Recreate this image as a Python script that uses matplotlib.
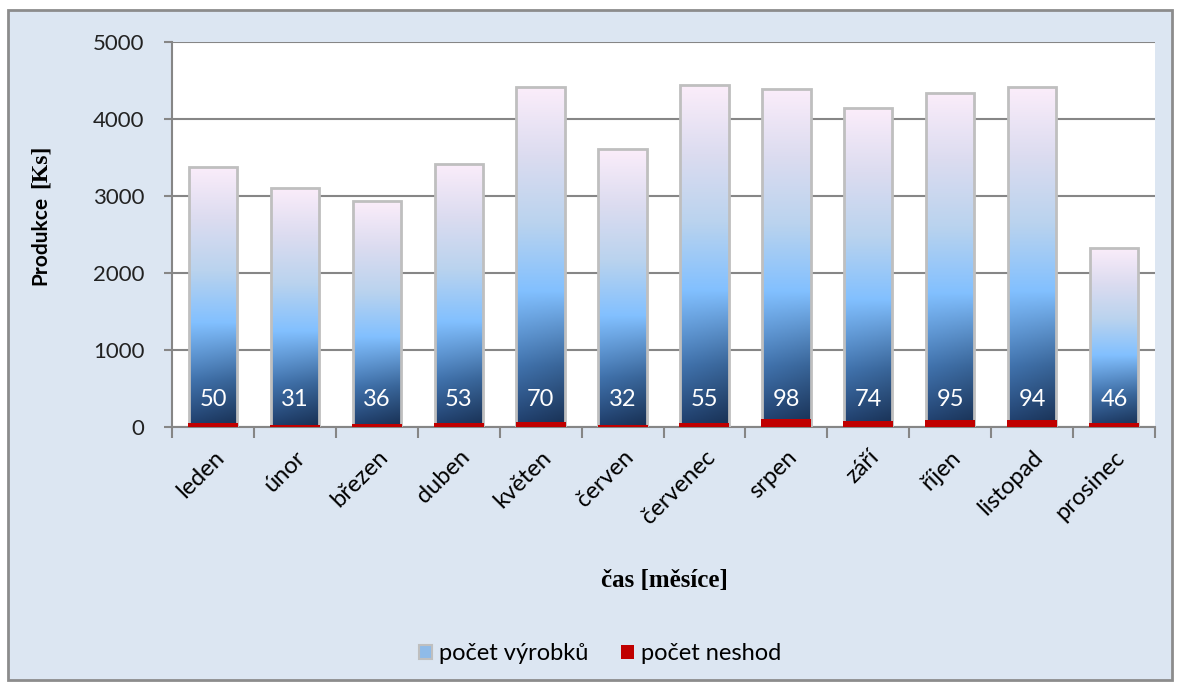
import numpy as np
import matplotlib
matplotlib.use("Agg")
import matplotlib.pyplot as plt
from matplotlib.colors import LinearSegmentedColormap
from matplotlib.patches import Rectangle, Patch

# _________________________________________________________________
# data
months = ["leden", "únor", "březen", "duben", "květen", "červen",
          "červenec", "srpen", "září", "říjen", "listopad", "prosinec"]
vyrobky = [3380, 3110, 2930, 3420, 4410, 3610, 4440, 4390, 4140, 4340, 4410, 2330]
neshody = [50, 31, 36, 53, 70, 32, 55, 98, 74, 95, 94, 46]
y_ticks = [0, 1000, 2000, 3000, 4000, 5000]
# _________________________________________________________________

plt.rcParams['font.family'] = ['Lato', 'DejaVu Sans']

BG = "#dce6f2"
grad = LinearSegmentedColormap.from_list("bar", [
    (0.00, "#1b365e"),
    (0.18, "#3d6ca3"),
    (0.40, "#82c0ff"),
    (0.60, "#bad3ee"),
    (0.80, "#dcdcf0"),
    (1.00, "#fbedfa"),
])

fig = plt.figure(figsize=(11.81, 6.87), dpi=100)
fig.patch.set_facecolor("white")
fig.patches.append(Rectangle((8 / 1181, 1 - 680 / 687), 1164 / 1181, 670 / 687,
                             transform=fig.transFigure, facecolor=BG,
                             edgecolor="#8c8c8c", linewidth=2, zorder=-10))

ax = fig.add_axes([172 / 1181, 1 - 427 / 687, 983 / 1181, 385 / 687])
ax.set_facecolor("white")
x = np.arange(len(months))
w = 0.59

bars = ax.bar(x, vyrobky, width=w, facecolor="none", edgecolor="#bfbfbf",
              linewidth=2, zorder=3)
# gradient inside each bar: vertical ramp, lower part a bit lighter on the left
yy, xx = np.mgrid[0:1:256j, 0:1:32j]
for b in bars:
    x0, h = b.get_x(), b.get_height()
    rgba = grad(yy)
    shade = 1 + 0.25 * (0.5 - xx) * np.clip(1 - yy / 0.4, 0, 1)
    rgba[..., :3] = np.clip(rgba[..., :3] * shade[..., None], 0, 1)
    im = ax.imshow(rgba, origin="lower", aspect="auto",
                   extent=(x0, x0 + b.get_width(), 0, h), zorder=2)
    im.set_clip_path(b)

ax.bar(x, neshody, width=w + 0.02, color="#c00000", zorder=4)

for xi, n in zip(x, neshody):
    ax.text(xi, 360, str(n), color="white", ha="center", va="center",
            fontsize=17, zorder=5)

ax.set_xlim(-0.5, len(months) - 0.5)
ax.set_ylim(0, 5000)
ax.set_yticks(y_ticks)
ax.set_yticklabels([str(v) for v in y_ticks], fontsize=16, color="#222222")
ax.yaxis.grid(True, color="#868686", linewidth=1.5)
ax.set_axisbelow(True)

ax.set_xticks(x)
ax.set_xticklabels(months, rotation=45, ha="right", rotation_mode="anchor",
                   fontsize=17)
ax.set_xticks(np.arange(-0.5, len(months)), minor=True)
ax.tick_params(axis="x", which="major", length=0, pad=14)
ax.tick_params(axis="x", which="minor", length=8, width=1.5, color="#868686")
ax.tick_params(axis="y", length=6, width=1.5, color="#868686", pad=14)

for s in ["top", "right"]:
    ax.spines[s].set_visible(False)
for s in ["left", "bottom"]:
    ax.spines[s].set_color("#868686")
    ax.spines[s].set_linewidth(1.5)

fig.text(0.034, 1 - 240 / 687, "Produkce", rotation=90, ha="center", va="center",
         fontsize=15, fontweight="bold")
fig.text(0.034, 1 - 166 / 687, "[Ks]", rotation=90, ha="center", va="center",
         fontsize=17, fontweight="bold", family="Liberation Serif")
fig.text(664 / 1181, 1 - 581 / 687, "čas [měsíce]", ha="center", va="center",
         fontsize=18, fontweight="bold", family="Liberation Serif")

handles = [Patch(facecolor="#8fbbe8", edgecolor="#bfbfbf", linewidth=1.5),
           Patch(facecolor="#c00000")]
fig.legend(handles, ["počet výrobků", "počet neshod"], loc="center",
           bbox_to_anchor=(600 / 1181, 1 - 654 / 687), ncol=2, frameon=False,
           fontsize=17, handlelength=0.55, handleheight=0.55,
           handletextpad=0.3, columnspacing=1.4)

fig.savefig("out.png", dpi=100, facecolor=fig.get_facecolor())
